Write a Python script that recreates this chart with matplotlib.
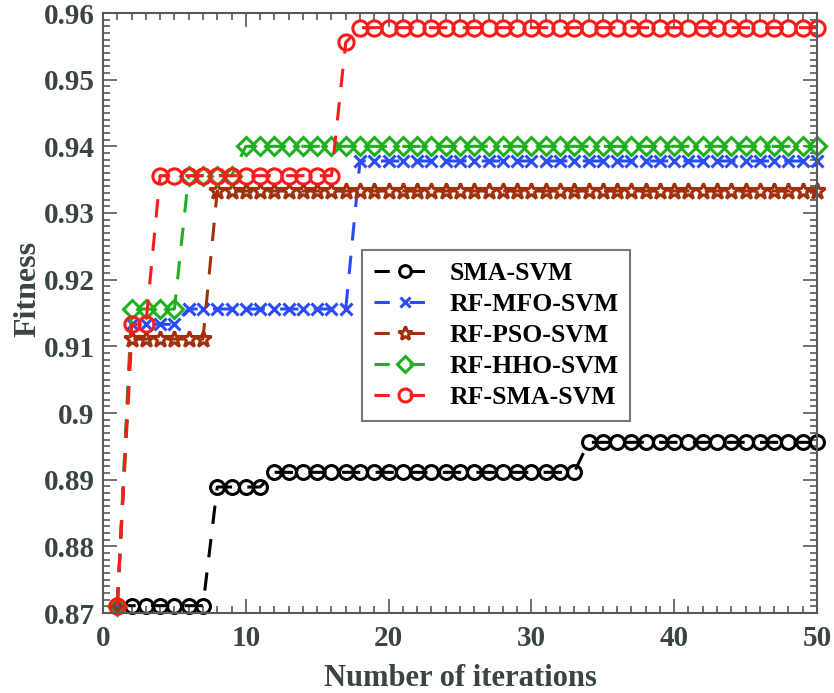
import matplotlib
matplotlib.use("Agg")
import matplotlib.pyplot as plt
from matplotlib.ticker import MultipleLocator

iterations = list(range(1, 51))

sma_svm = [0.8711, 0.8711, 0.8711, 0.8711, 0.8711, 0.8711, 0.8711, 0.8889, 0.8889, 0.8889,
           0.8889, 0.8911, 0.8911, 0.8911, 0.8911, 0.8911, 0.8911, 0.8911, 0.8911, 0.8911,
           0.8911, 0.8911, 0.8911, 0.8911, 0.8911, 0.8911, 0.8911, 0.8911, 0.8911, 0.8911,
           0.8911, 0.8911, 0.8911, 0.8956, 0.8956, 0.8956, 0.8956, 0.8956, 0.8956, 0.8956,
           0.8956, 0.8956, 0.8956, 0.8956, 0.8956, 0.8956, 0.8956, 0.8956, 0.8956, 0.8956]

rf_mfo_svm = [0.8711, 0.9133, 0.9133, 0.9133, 0.9133, 0.9156, 0.9156, 0.9156, 0.9156, 0.9156,
              0.9156, 0.9156, 0.9156, 0.9156, 0.9156, 0.9156, 0.9156, 0.9378, 0.9378, 0.9378,
              0.9378, 0.9378, 0.9378, 0.9378, 0.9378, 0.9378, 0.9378, 0.9378, 0.9378, 0.9378,
              0.9378, 0.9378, 0.9378, 0.9378, 0.9378, 0.9378, 0.9378, 0.9378, 0.9378, 0.9378,
              0.9378, 0.9378, 0.9378, 0.9378, 0.9378, 0.9378, 0.9378, 0.9378, 0.9378, 0.9378]

rf_pso_svm = [0.8711, 0.9111, 0.9111, 0.9111, 0.9111, 0.9111, 0.9111, 0.9333, 0.9333, 0.9333,
              0.9333, 0.9333, 0.9333, 0.9333, 0.9333, 0.9333, 0.9333, 0.9333, 0.9333, 0.9333,
              0.9333, 0.9333, 0.9333, 0.9333, 0.9333, 0.9333, 0.9333, 0.9333, 0.9333, 0.9333,
              0.9333, 0.9333, 0.9333, 0.9333, 0.9333, 0.9333, 0.9333, 0.9333, 0.9333, 0.9333,
              0.9333, 0.9333, 0.9333, 0.9333, 0.9333, 0.9333, 0.9333, 0.9333, 0.9333, 0.9333]

rf_hho_svm = [0.8711, 0.9156, 0.9156, 0.9156, 0.9156, 0.9356, 0.9356, 0.9356, 0.9356, 0.9400,
              0.9400, 0.9400, 0.9400, 0.9400, 0.9400, 0.9400, 0.9400, 0.9400, 0.9400, 0.9400,
              0.9400, 0.9400, 0.9400, 0.9400, 0.9400, 0.9400, 0.9400, 0.9400, 0.9400, 0.9400,
              0.9400, 0.9400, 0.9400, 0.9400, 0.9400, 0.9400, 0.9400, 0.9400, 0.9400, 0.9400,
              0.9400, 0.9400, 0.9400, 0.9400, 0.9400, 0.9400, 0.9400, 0.9400, 0.9400, 0.9400]

rf_sma_svm = [0.8711, 0.9133, 0.9133, 0.9356, 0.9356, 0.9356, 0.9356, 0.9356, 0.9356, 0.9356,
              0.9356, 0.9356, 0.9356, 0.9356, 0.9356, 0.9356, 0.9556, 0.9578, 0.9578, 0.9578,
              0.9578, 0.9578, 0.9578, 0.9578, 0.9578, 0.9578, 0.9578, 0.9578, 0.9578, 0.9578,
              0.9578, 0.9578, 0.9578, 0.9578, 0.9578, 0.9578, 0.9578, 0.9578, 0.9578, 0.9578,
              0.9578, 0.9578, 0.9578, 0.9578, 0.9578, 0.9578, 0.9578, 0.9578, 0.9578, 0.9578]

labels = ["SMA-SVM", "RF-MFO-SVM", "RF-PSO-SVM", "RF-HHO-SVM", "RF-SMA-SVM"]
y_ticks = [0.87, 0.88, 0.89, 0.9, 0.91, 0.92, 0.93, 0.94, 0.95, 0.96]
y_tick_labels = ["0.87", "0.88", "0.89", "0.9", "0.91", "0.92", "0.93", "0.94", "0.95", "0.96"]

plt.rcParams['font.family'] = ['Liberation Serif', 'DejaVu Serif']
plt.rcParams['font.weight'] = 'bold'

text_col = '#3a4444'
spine_col = '#555a5a'

fig = plt.figure(figsize=(8.34, 6.93), dpi=100)
ax = fig.add_axes([103 / 834, 80 / 693, 714 / 834, 600 / 693])

# (values, colour, marker, marker size)
styles = [
    (sma_svm, 'black', 'o', 10),
    (rf_mfo_svm, '#2b4cf5', 'x', 8),
    (rf_pso_svm, '#a3300c', '*', 12),
    (rf_hho_svm, '#1fb01f', 'D', 9),
    (rf_sma_svm, '#ff1a1a', 'o', 11),
]

for (vals, col, mk, ms), lab in zip(styles, labels):
    ax.plot(iterations, vals, linestyle=(0, (6, 5)), color=col, linewidth=2.2,
            marker=mk, markersize=ms, markerfacecolor='none', markeredgecolor=col,
            markeredgewidth=2.2, label=lab, clip_on=False)

ax.set_xlim(0, 50)
ax.set_ylim(0.87, 0.96)
ax.xaxis.set_major_locator(MultipleLocator(10))
ax.xaxis.set_minor_locator(MultipleLocator(1))
ax.yaxis.set_minor_locator(MultipleLocator(0.001))
ax.set_yticks(y_ticks)
ax.set_yticklabels(y_tick_labels)

ax.tick_params(which='both', direction='in', top=True, right=True, colors=spine_col,
               labelcolor=text_col, labelsize=21, width=1.2)
ax.tick_params(which='major', length=10)
ax.tick_params(which='minor', length=5)
ax.tick_params(axis='x', which='major', pad=9)
ax.tick_params(axis='y', which='major', pad=6)
for lbl in ax.get_xticklabels() + ax.get_yticklabels():
    lbl.set_fontweight('bold')
for sp in ax.spines.values():
    sp.set_color(spine_col)
    sp.set_linewidth(1.5)

ax.set_xlabel("Number of iterations", fontsize=22, fontweight='bold', color=text_col, labelpad=8)
ax.set_ylabel("Fitness", fontsize=23, fontweight='bold', color=text_col)
ax.yaxis.set_label_coords(-0.085, 0.54)

leg = ax.legend(loc='upper left', bbox_to_anchor=(0.363, 0.605), borderaxespad=0,
                prop={'weight': 'bold', 'size': 18.5}, frameon=True, fancybox=False,
                edgecolor=spine_col, handlelength=2.4, labelspacing=0.32,
                borderpad=0.45, handletextpad=0.55, markerscale=0.85)
leg.get_frame().set_linewidth(1.5)
for t in leg.get_texts():
    t.set_color('black')
# legend handles read "-  o  -"
for ln in leg.get_lines():
    ln.set_linestyle((0, (5, 6.5)))

fig.savefig("out.png", dpi=100)
